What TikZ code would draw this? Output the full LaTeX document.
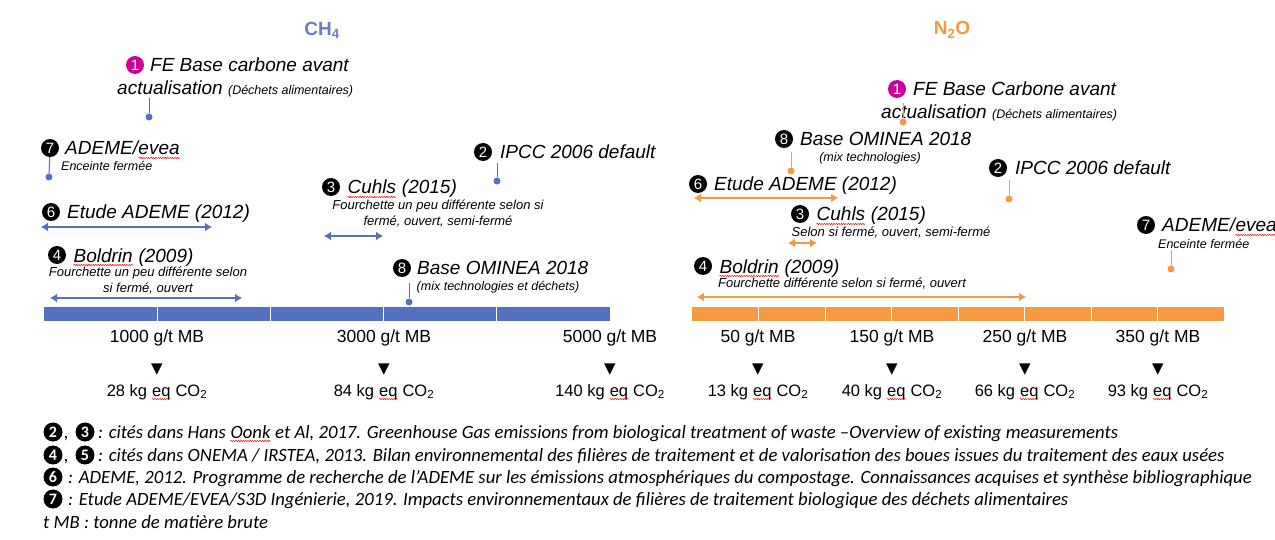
\documentclass[tikz,border=0pt]{standalone}
\usepackage{fontspec}
\setmainfont{Liberation Sans}
\newfontfamily\calfont{Carlito}
\newfontfamily\dvfont{DejaVu Sans}
\usetikzlibrary{arrows.meta,decorations.pathmorphing}
\definecolor{cblue}{RGB}{84,112,192}
\definecolor{corange}{RGB}{248,153,66}
\definecolor{cmag}{RGB}{204,0,153}
\definecolor{ctitle}{RGB}{105,125,200}
\newcommand\redsq[1]{\tikz[baseline=(w.base),x=1pt,y=1pt]{\node[inner sep=0pt] (w) {#1};\draw[red, line width=0.5pt, decorate, decoration={snake, amplitude=0.6pt, segment length=2.4pt}] ([yshift=-3pt]w.base west) -- ([yshift=-3pt]w.base east);}}
\begin{document}
\begin{tikzpicture}[x=1pt,y=-1pt,every node/.style={inner sep=0pt},
  lbl/.style={anchor=base west, font=\fontsize{19}{22}\selectfont\itshape},
  subl/.style={font=\fontsize{13}{16}\selectfont\itshape, align=center},
  tinyl/.style={font=\fontsize{12.5}{15}\selectfont\itshape},
  num/.style={circle, fill=black, text=white, minimum size=18pt, font=\fontsize{15}{15}\selectfont},
  magnum/.style={num, fill=cmag},
  dotb/.style={circle, fill=cblue, minimum size=7pt},
  doto/.style={circle, fill=corange, minimum size=7pt},
  pinb/.style={draw=cblue, line width=1pt},
  pino/.style={draw=corange, line width=1pt},
  rngb/.style={{Latex[length=7pt,width=9pt]}-{Latex[length=7pt,width=9pt]}, draw=cblue, line width=2.8pt},
  rngo/.style={{Latex[length=7pt,width=9pt]}-{Latex[length=7pt,width=9pt]}, draw=corange, line width=2.8pt},
  scl/.style={font=\fontsize{17.5}{20}\selectfont},
  co/.style={font=\fontsize{16.5}{19}\selectfont},
  tri/.style={font=\dvfont\fontsize{15}{15}\selectfont},
  foot/.style={anchor=base west, font=\calfont\fontsize{18.7}{21}\selectfont\itshape},
  fnum/.style={num, minimum size=19pt, font=\calfont\fontsize{16}{16}\selectfont\bfseries}]
\useasboundingbox (0,0) rectangle (1275,540);
\fill[white] (0,0) rectangle (1275,540);

% titles
\node[font=\fontsize{19}{22}\selectfont\bfseries, text=ctitle] (tch) at (322,30) {CH\textsubscript{4}};
\node[font=\fontsize{19}{22}\selectfont\bfseries, text=corange] (tno) at (952,30) {N\textsubscript{2}O};

% ===== CH4 side =====
\node[magnum] (b1n) at (135,65) {1};
\node[lbl] (b1t) at (150,72) {FE Base carbone avant};
\node[lbl] (b1u) at (117,95) {actualisation {\fontsize{12.5}{15}\selectfont (Déchets alimentaires)}};
\coordinate (b1c) at (149,98);
\node[dotb] (b1d) at (149,117) {};
\draw[pinb] (b1c) -- (b1d);

\node[num] (b7n) at (50,148) {7};
\node[lbl] (b7t) at (65,155) {ADEME/\redsq{evea}};
\node[tinyl, anchor=base west] (b7s) at (61,171) {Enceinte fermée};
\node[dotb] (b7d) at (49,177) {};
\draw[pinb] (b7n) -- (b7d);

\node[num] (b2n) at (483,152) {2};
\node[lbl] (b2t) at (500,159) {IPCC 2006 default};
\coordinate (b2c) at (497,163);
\node[dotb] (b2d) at (497,181) {};
\draw[pinb] (b2c) -- (b2d);

\node[num] (b3n) at (331,187) {3};
\node[lbl] (b3t) at (347,194) {\redsq{Cuhls} (2015)};
\node[subl] (b3s) at (438,214) {Fourchette un peu différente selon si\\fermé, ouvert, semi-fermé};
\coordinate (b3l) at (324,236);
\coordinate (b3r) at (383,236);
\draw[rngb] (b3l) -- (b3r);

\node[num] (b6n) at (51,212) {6};
\node[lbl] (b6t) at (67,219) {Etude ADEME (2012)};
\coordinate (b6l) at (41,227);
\coordinate (b6r) at (212,227);
\draw[rngb] (b6l) -- (b6r);

\node[num] (b4n) at (57,255) {4};
\node[lbl] (b4t) at (73,262) {\redsq{Boldrin} (2009)};
\node[subl] (b4s) at (148,281) {Fourchette un peu différente selon\\si fermé, ouvert};
\coordinate (b4l) at (50,298);
\coordinate (b4r) at (242,298);
\draw[rngb] (b4l) -- (b4r);

\node[num] (b8n) at (402,268) {8};
\node[lbl] (b8t) at (417,275) {Base OMINEA 2018};
\node[tinyl] (b8s) at (498,287) {(mix technologies et déchets)};
\coordinate (b8c) at (409,283);
\node[dotb] (b8d) at (409,302) {};
\draw[pinb] (b8c) -- (b8d);

% blue bar
\fill[cblue] (44,307) rectangle (610,321);
\foreach \x in {157.2,270.4,383.6,496.8} \draw[white, line width=1pt] (\x,307) -- (\x,321);

\node[scl] (bs1) at (157,338) {1000 g/t MB};
\node[scl] (bs3) at (384,338) {3000 g/t MB};
\node[scl] (bs5) at (610,338) {5000 g/t MB};
\node[tri] (bt1) at (157,370) {▼};
\node[tri] (bt3) at (384,370) {▼};
\node[tri] (bt5) at (610,370) {▼};
\node[co] (bc1) at (157,392) {28 kg \redsq{eq} CO\textsubscript{2}};
\node[co] (bc3) at (384,392) {84 kg \redsq{eq} CO\textsubscript{2}};
\node[co] (bc5) at (610,392) {140 kg \redsq{eq} CO\textsubscript{2}};

% ===== N2O side =====
\node[magnum] (o1n) at (897,89) {1};
\node[lbl] (o1t) at (913,96) {FE Base Carbone avant};
\node[lbl] (o1u) at (881,119) {actualisation {\fontsize{12.5}{15}\selectfont (Déchets alimentaires)}};
\coordinate (o1c) at (903,103);
\node[doto] (o1d) at (903,122) {};
\draw[pino] (o1c) -- (o1d);

\node[num] (o8n) at (784,139) {8};
\node[lbl] (o8t) at (800,146) {Base OMINEA 2018};
\node[tinyl] (o8s) at (870,158) {(mix technologies)};
\coordinate (o8c) at (791,152);
\node[doto] (o8d) at (791,171) {};
\draw[pino] (o8c) -- (o8d);

\node[num] (o2n) at (998,168) {2};
\node[lbl] (o2t) at (1015,175) {IPCC 2006 default};
\coordinate (o2c) at (1009,180);
\node[doto] (o2d) at (1009,199) {};
\draw[pino] (o2c) -- (o2d);

\node[num] (o6n) at (698,184) {6};
\node[lbl] (o6t) at (714,191) {Etude ADEME (2012)};
\coordinate (o6l) at (694,198);
\coordinate (o6r) at (838,198);
\draw[rngo] (o6l) -- (o6r);

\node[num] (o3n) at (800,214) {3};
\node[lbl] (o3t) at (816,221) {\redsq{Cuhls} (2015)};
\node[subl] (o3s) at (891,233) {Selon si fermé, ouvert, semi-fermé};
\coordinate (o3l) at (788,243);
\coordinate (o3r) at (817,243);
\draw[rngo] (o3l) -- (o3r);

\node[num] (o7n) at (1146,225) {7};
\node[lbl] (o7t) at (1162,232) {ADEME/\redsq{evea}};
\node[tinyl, anchor=base west] (o7s) at (1158,249) {Enceinte fermée};
\coordinate (o7c) at (1171,250);
\node[doto] (o7d) at (1171,269) {};
\draw[pino] (o7c) -- (o7d);

\node[num] (o4n) at (703,266) {4};
\node[lbl] (o4t) at (719,273) {\redsq{Boldrin} (2009)};
\node[subl] (o4s) at (842,284) {Fourchette différente selon si fermé, ouvert};
\coordinate (o4l) at (697,297);
\coordinate (o4r) at (1026,297);
\draw[rngo] (o4l) -- (o4r);

% orange bar
\fill[corange] (692,307) rectangle (1224,321);
\foreach \x in {758.5,825,891.5,958,1024.5,1091,1157.5} \draw[white, line width=1pt] (\x,307) -- (\x,321);

\node[scl] (os1) at (758,338) {50 g/t MB};
\node[scl] (os2) at (892,338) {150 g/t MB};
\node[scl] (os3) at (1025,338) {250 g/t MB};
\node[scl] (os4) at (1158,338) {350 g/t MB};
\node[tri] (ot1) at (758,370) {▼};
\node[tri] (ot2) at (892,370) {▼};
\node[tri] (ot3) at (1025,370) {▼};
\node[tri] (ot4) at (1158,370) {▼};
\node[co] (oc1) at (758,392) {13 kg \redsq{eq} CO\textsubscript{2}};
\node[co] (oc2) at (892,392) {40 kg \redsq{eq} CO\textsubscript{2}};
\node[co] (oc3) at (1025,392) {66 kg \redsq{eq} CO\textsubscript{2}};
\node[co] (oc4) at (1158,392) {93 kg \redsq{eq} CO\textsubscript{2}};

% ===== footnotes =====
\node[fnum] (f2) at (53,432) {2};
\node[foot] (fk1) at (64,438) {,};
\node[fnum] (f3) at (85,432) {3};
\node[foot] (fl1) at (98,438) {: cités dans Hans \redsq{Oonk} et Al, 2017. Greenhouse Gas emissions from biological treatment of waste –Overview of existing measurements};

\node[fnum] (f4) at (53,455) {4};
\node[foot] (fk2) at (64,461) {,};
\node[fnum] (f5) at (85,455) {5};
\node[foot] (fl2) at (98,461) {: cités dans ONEMA / IRSTEA, 2013. Bilan environnemental des filières de traitement et de valorisation des boues issues du traitement des eaux usées};

\node[fnum] (f6) at (53,477) {6};
\node[foot] (fl3) at (68,483) {: ADEME, 2012. Programme de recherche de l’ADEME sur les émissions atmosphériques du compostage. Connaissances acquises et synthèse bibliographique};

\node[fnum] (f7) at (53,499) {7};
\node[foot] (fl4) at (68,505) {: Etude ADEME/EVEA/S3D Ingénierie, 2019. Impacts environnementaux de filières de traitement biologique des déchets alimentaires};

\node[foot] (fl5) at (43,528) {t MB : tonne de matière brute};
\end{tikzpicture}
\end{document}
